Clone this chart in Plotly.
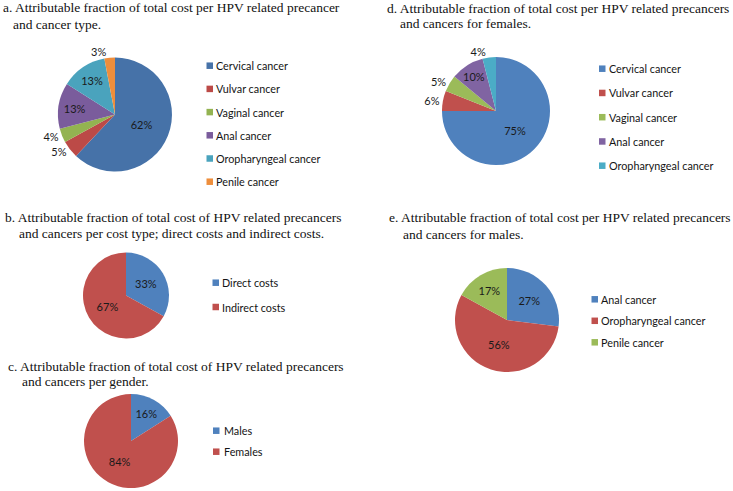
import plotly.graph_objects as go

W, H = 733, 491

# ---------------- data ----------------
a_labels = ["Cervical cancer", "Vulvar cancer", "Vaginal cancer", "Anal cancer",
            "Oropharyngeal cancer", "Penile cancer"]
a_values = [62, 5, 4, 13, 13, 3]
a_colors = ["#4672A8", "#BC4A47", "#93B351", "#7A5C9C", "#4AA3BD", "#EE8E3C"]
a_textpos = ["inside", "outside", "outside", "inside", "inside", "outside"]

b_labels = ["Direct costs", "Indirect costs"]
b_values = [33, 67]
b_colors = ["#4F81BD", "#C0504D"]

c_labels = ["Males", "Females"]
c_values = [16, 84]
c_colors = ["#4F81BD", "#C0504D"]

d_labels = ["Cervical cancer", "Vulvar cancer", "Vaginal cancer", "Anal cancer",
            "Oropharyngeal cancer"]
d_values = [75, 6, 5, 10, 4]
d_colors = ["#4F81BD", "#C0504D", "#9BBB59", "#8064A2", "#4BACC6"]
d_textpos = ["inside", "outside", "outside", "inside", "outside"]

e_labels = ["Anal cancer", "Oropharyngeal cancer", "Penile cancer"]
e_values = [27, 56, 17]
e_colors = ["#4F81BD", "#C0504D", "#9BBB59"]

titles = {
    "a": ["a. Attributable fraction of total cost per HPV related precancer",
          "and cancer type."],
    "b": ["b. Attributable fraction of total cost of HPV related precancers",
          "and cancers per cost type; direct costs and indirect costs."],
    "c": ["c. Attributable fraction of total cost of HPV related precancers",
          "and cancers per gender."],
    "d": ["d. Attributable fraction of total cost per HPV related precancers",
          "and cancers for females."],
    "e": ["e. Attributable fraction of total cost per HPV related precancers",
          "and cancers for males."],
}

# ---------------- layout helpers ----------------
def px_x(x):
    return x / W

def px_y(y):
    return 1 - y / H

def domain(cx, cy, r):
    return dict(x=[px_x(cx - r), px_x(cx + r)], y=[px_y(cy + r), px_y(cy - r)])

SANS = "Lato, 'Open Sans', sans-serif"
LABEL_FONT = dict(family=SANS, size=11, color="#1a1a1a")
LEGEND_FONT = dict(family=SANS, size=10.8, color="#141414")
TITLE_FONT = dict(family="'Liberation Serif', 'Times New Roman', serif", size=13.5, color="#111111")

fig = go.Figure()

def add_pie(labels, values, colors, textpos, cx, cy, r):
    fig.add_trace(go.Pie(
        labels=labels, values=values, sort=False, direction="clockwise",
        rotation=0, domain=domain(cx, cy, r),
        marker=dict(colors=colors, line=dict(width=0)),
        texttemplate="%{value}%", textposition=textpos,
        insidetextorientation="horizontal",
        textfont=LABEL_FONT, insidetextfont=LABEL_FONT, outsidetextfont=LABEL_FONT,
        showlegend=False, hoverinfo="label+percent",
    ))

add_pie(a_labels, a_values, a_colors, a_textpos, 115, 114.5, 57)
add_pie(b_labels, b_values, b_colors, "inside", 126, 295.5, 43)
add_pie(c_labels, c_values, c_colors, "inside", 131, 441, 47)
add_pie(d_labels, d_values, d_colors, d_textpos, 496, 111, 54)
add_pie(e_labels, e_values, e_colors, "inside", 507, 320, 52)

shapes, annotations = [], []

def add_legend(labels, colors, sq_x, y0, dy, text_x):
    for i, (lab, col) in enumerate(zip(labels, colors)):
        yc = y0 + i * dy
        shapes.append(dict(type="rect", xref="paper", yref="paper",
                           x0=px_x(sq_x), x1=px_x(sq_x + 6.5),
                           y0=px_y(yc + 3.25), y1=px_y(yc - 3.25),
                           fillcolor=col, line=dict(width=0)))
        annotations.append(dict(text=lab, xref="paper", yref="paper",
                                x=px_x(text_x - 1), y=px_y(yc), xanchor="left",
                                yanchor="middle", showarrow=False, font=LEGEND_FONT))

add_legend(a_labels, a_colors, 206.5, 65.7, 23.2, 215)
add_legend(b_labels, b_colors, 212.5, 282.7, 24.3, 221)
add_legend(c_labels, c_colors, 213, 430.7, 21, 222.5)
add_legend(d_labels, d_colors, 599, 68.7, 24.25, 607.5)
add_legend(e_labels, e_colors, 591.5, 299.3, 21.5, 600)

def add_title(key, x1, y1, x2, y2):
    l1, l2 = titles[key]
    for txt, x, y in ((l1, x1, y1), (l2, x2, y2)):
        annotations.append(dict(text=txt, xref="paper", yref="paper",
                                x=px_x(x - 1), y=px_y(y), xanchor="left",
                                yanchor="middle", showarrow=False, font=TITLE_FONT))

add_title("a", 2, 7.5, 12, 24)
add_title("b", 4, 218, 18, 233.5)
add_title("c", 7, 366, 21, 381)
add_title("d", 386, 8, 399, 23.5)
add_title("e", 388, 218, 402, 234)

fig.update_layout(
    width=W, height=H, margin=dict(l=0, r=0, t=0, b=0),
    paper_bgcolor="white", plot_bgcolor="white",
    shapes=shapes, annotations=annotations, showlegend=False,
)

fig.write_html("out.html", config={"displayModeBar": False},
               post_script="document.body.style.margin='0';document.body.style.padding='0';")
